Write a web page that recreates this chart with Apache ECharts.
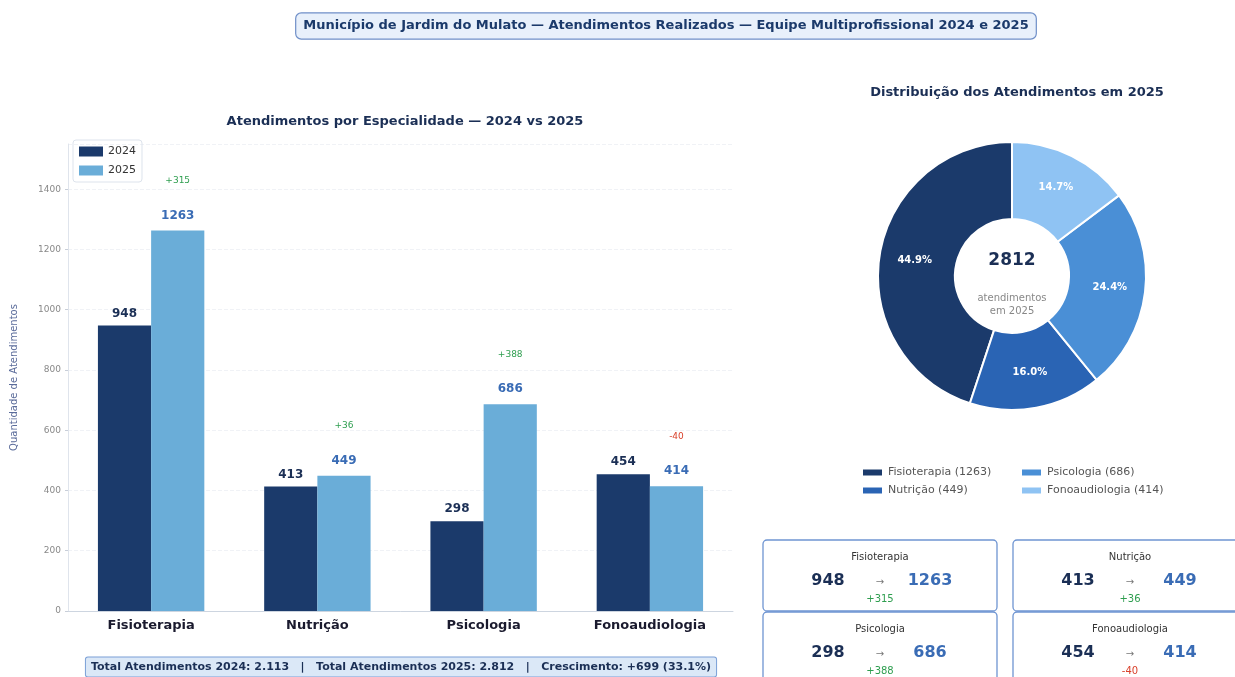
<!DOCTYPE html>
<html>
<head>
<meta charset="utf-8">
<script src="https://cdn.jsdelivr.net/npm/echarts@6.0.0/dist/echarts.min.js"></script>
<style>
  html, body { margin: 0; padding: 0; background: #fff; }
  #chart { width: 1235px; height: 677px; }
</style>
</head>
<body>
<div id="chart"></div>
<script>
// dados
const especialidades = ['Fisioterapia', 'Nutrição', 'Psicologia', 'Fonoaudiologia'];
const valores2024 = [948, 413, 298, 454];
const valores2025 = [1263, 449, 686, 414];
const yTicks = [0, 200, 400, 600, 800, 1000, 1200, 1400];

const corPie = ['#1b3a6b', '#2a64b4', '#4a8fd6', '#8fc3f3'];
const FONT = 'DejaVu Sans';

const total2024 = valores2024.reduce((a, b) => a + b, 0);
const total2025 = valores2025.reduce((a, b) => a + b, 0);
const diffs = valores2025.map((v, i) => v - valores2024[i]);
const fmtDiff = d => (d >= 0 ? '+' : '') + d;
const fmtMil = n => String(n).replace(/\B(?=(\d{3})+(?!\d))/g, '.');

const chart = echarts.init(document.getElementById('chart'));

// cartões de resumo (2x2)
const cards = [];
const cardPos = [
  { x: 763, y: 540, w: 234, h: 71 },
  { x: 1013, y: 540, w: 234, h: 71 },
  { x: 763, y: 612, w: 234, h: 75 },
  { x: 1013, y: 612, w: 234, h: 75 }
];
especialidades.forEach((nome, i) => {
  const p = cardPos[i];
  const cx = p.x + 117;
  const d = diffs[i];
  cards.push({
    type: 'rect',
    shape: { x: p.x, y: p.y, width: p.w, height: p.h, r: 4 },
    style: { fill: '#fff', stroke: '#6f95d2', lineWidth: 1.3 }
  });
  cards.push({
    type: 'text', x: cx, y: p.y + 17,
    style: { text: nome, fill: '#333', font: '10px ' + FONT, align: 'center', verticalAlign: 'middle' }
  });
  cards.push({
    type: 'text', x: cx - 52, y: p.y + 41,
    style: { text: String(valores2024[i]), fill: '#1b2f55', font: 'bold 16px ' + FONT, align: 'center', verticalAlign: 'middle' }
  });
  cards.push({
    type: 'text', x: cx, y: p.y + 42,
    style: { text: '→', fill: '#777', font: '10px ' + FONT, align: 'center', verticalAlign: 'middle' }
  });
  cards.push({
    type: 'text', x: cx + 50, y: p.y + 41,
    style: { text: String(valores2025[i]), fill: '#3a6cb5', font: 'bold 16px ' + FONT, align: 'center', verticalAlign: 'middle' }
  });
  cards.push({
    type: 'text', x: cx, y: p.y + 59,
    style: { text: fmtDiff(d), fill: d >= 0 ? '#2e9e4f' : '#d9412b', font: '10px ' + FONT, align: 'center', verticalAlign: 'middle' }
  });
});

const option = {
  backgroundColor: '#fff',
  animation: false,
  textStyle: { fontFamily: FONT },
  title: [
    {
      text: 'Atendimentos por Especialidade — 2024 vs 2025',
      left: 400, top: 110, textAlign: 'center',
      textStyle: { fontSize: 13, fontWeight: 'bold', color: '#1b2f55', fontFamily: FONT }
    },
    {
      text: 'Distribuição dos Atendimentos em 2025',
      left: 1012, top: 81, textAlign: 'center',
      textStyle: { fontSize: 13, fontWeight: 'bold', color: '#1b2f55', fontFamily: FONT }
    }
  ],
  legend: [
    {
      data: ['2024', '2025'],
      orient: 'vertical', left: 73, top: 140,
      icon: 'rect',
      itemWidth: 24, itemHeight: 10, itemGap: 8,
      padding: [6, 6, 6, 6],
      borderColor: '#dde3ec', borderWidth: 1, borderRadius: 3,
      textStyle: { fontSize: 11, color: '#333', fontFamily: FONT }
    },
    {
      data: [especialidades[0], especialidades[1]],
      orient: 'vertical', left: 856, top: 462,
      itemWidth: 21, itemHeight: 8, itemGap: 7, icon: 'rect',
      formatter: n => n + ' (' + valores2025[especialidades.indexOf(n)] + ')',
      textStyle: { fontSize: 11, color: '#555', fontFamily: FONT }
    },
    {
      data: [especialidades[2], especialidades[3]],
      orient: 'vertical', left: 1015, top: 462,
      itemWidth: 21, itemHeight: 8, itemGap: 7, icon: 'rect',
      formatter: n => n + ' (' + valores2025[especialidades.indexOf(n)] + ')',
      textStyle: { fontSize: 11, color: '#555', fontFamily: FONT }
    }
  ],
  grid: { left: 68, right: 502, top: 144, bottom: 66 },
  xAxis: {
    type: 'category',
    data: especialidades,
    axisTick: { show: false },
    axisLine: { lineStyle: { color: '#cdd5e0' } },
    axisLabel: { fontSize: 13, fontWeight: 'bold', color: '#1a1a2e', margin: 8 }
  },
  yAxis: {
    type: 'value',
    min: 0, max: 1550, interval: 200,
    name: 'Quantidade de Atendimentos',
    nameLocation: 'middle', nameGap: 49,
    nameTextStyle: { fontSize: 10, color: '#5a6b9a' },
    axisLine: { show: true, lineStyle: { color: '#dfe4ec' } },
    axisTick: { show: true, length: 3, lineStyle: { color: '#c8ced8' } },
    axisLabel: {
      fontSize: 9, color: '#888', margin: 7, showMaxLabel: false,
      formatter: v => (yTicks.indexOf(v) >= 0 ? String(v) : '')
    },
    splitLine: { lineStyle: { color: '#f0f2f6', type: 'dashed' } }
  },
  series: [
    {
      name: '2024',
      type: 'bar',
      data: valores2024,
      barGap: '0%',
      barCategoryGap: '36%',
      itemStyle: { color: '#1b3a6b' },
      label: {
        show: true, position: 'top', distance: 6,
        fontSize: 12, fontWeight: 'bold', color: '#1b2f55'
      }
    },
    {
      name: '2025',
      type: 'bar',
      data: valores2025,
      itemStyle: { color: '#6aadd8' },
      label: {
        show: true, position: 'top', distance: 6,
        formatter: p => {
          const d = diffs[p.dataIndex];
          return '{' + (d >= 0 ? 'up' : 'down') + '|' + fmtDiff(d) + '}\n{v|' + p.value + '}';
        },
        rich: {
          up: { fontSize: 9, color: '#2e9e4f', lineHeight: 52, fontFamily: FONT },
          down: { fontSize: 9, color: '#d9412b', lineHeight: 52, fontFamily: FONT },
          v: { fontSize: 12, fontWeight: 'bold', color: '#3a6cb5', lineHeight: 18, fontFamily: FONT }
        }
      }
    },
    {
      name: 'Distribuição 2025',
      type: 'pie',
      center: [1012, 276],
      radius: [57, 134],
      startAngle: 90,
      clockwise: false,
      data: especialidades.map((n, i) => ({ name: n, value: valores2025[i] })),
      color: corPie,
      itemStyle: { borderColor: '#fff', borderWidth: 2 },
      label: {
        show: true, position: 'inside',
        formatter: p => (p.value / total2025 * 100).toFixed(1) + '%',
        fontSize: 10, fontWeight: 'bold', color: '#fff'
      },
      labelLine: { show: false },
      emphasis: { disabled: true }
    }
  ],
  graphic: [
    {
      type: 'text', x: 666, y: 26,
      style: {
        text: 'Município de Jardim do Mulato — Atendimentos Realizados — Equipe Multiprofissional 2024 e 2025',
        fill: '#1b3a6b', font: 'bold 13px ' + FONT, align: 'center', verticalAlign: 'middle',
        backgroundColor: '#e8f0fb', borderColor: '#6f8fc8', borderWidth: 1.2, borderRadius: 5,
        padding: [6, 7, 6, 7]
      }
    },
    {
      type: 'text', x: 1012, y: 261,
      style: { text: String(total2025), fill: '#1b2f55', font: 'bold 17px ' + FONT, align: 'center', verticalAlign: 'middle' }
    },
    {
      type: 'text', x: 1012, y: 305,
      style: { text: 'atendimentos\nem 2025', fill: '#888', font: '10px ' + FONT, align: 'center', verticalAlign: 'middle', lineHeight: 13 }
    },
    {
      type: 'text', x: 401, y: 667,
      style: {
        text: 'Total Atendimentos 2024: ' + fmtMil(total2024) + '   |   Total Atendimentos 2025: ' + fmtMil(total2025) +
          '   |   Crescimento: ' + fmtDiff(total2025 - total2024) + ' (' + ((total2025 - total2024) / total2024 * 100).toFixed(1) + '%)',
        fill: '#1b2f55', font: 'bold 11px ' + FONT, align: 'center', verticalAlign: 'middle',
        backgroundColor: '#dbe8f7', borderColor: '#7a9fd6', borderWidth: 1, borderRadius: 2,
        padding: [4, 5, 4, 5]
      }
    }
  ].concat(cards)
};

chart.setOption(option);
</script>
</body>
</html>
